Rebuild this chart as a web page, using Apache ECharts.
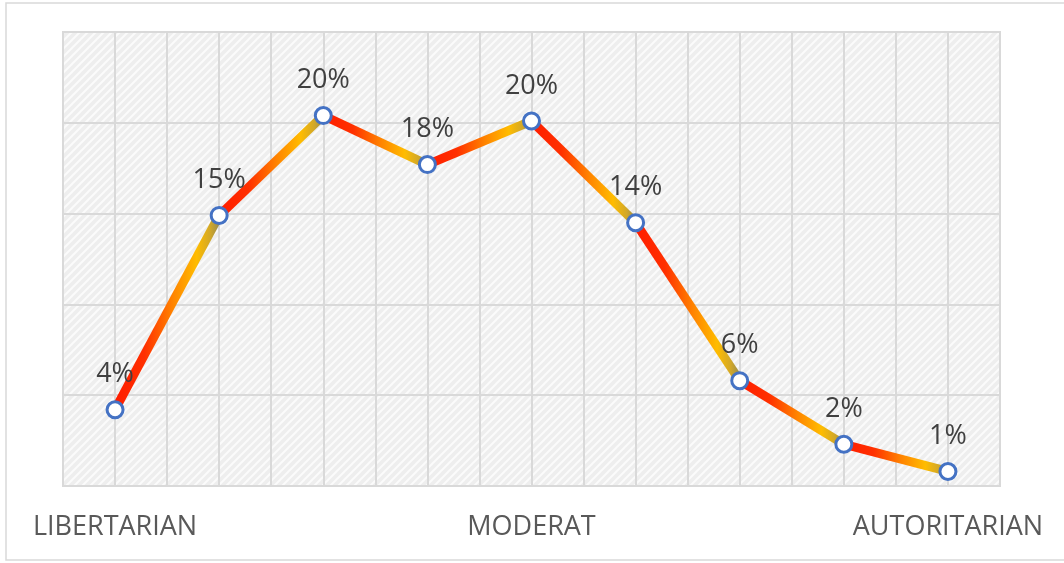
<!DOCTYPE html>
<html>
<head>
<meta charset="utf-8">
<script src="https://cdn.jsdelivr.net/npm/echarts@6/dist/echarts.min.js"></script>
<style>
html,body{margin:0;padding:0;background:#fff;}
#chart{width:1064px;height:563px;}
</style>
</head>
<body>
<div id="chart"></div>
<script>
// Data
const categories = ['c1','c2','c3','c4','c5','c6','c7','c8','c9'];
const tickLabels = ['LIBERTARIAN','','','','MODERAT','','','','AUTORITARIAN'];
const values = [4.2, 14.9, 20.4, 17.7, 20.1, 14.5, 5.8, 2.3, 0.8];
const dataLabels = ['4%','15%','20%','18%','20%','14%','6%','2%','1%'];

// texture pattern for plot background
const pc = document.createElement('canvas');
pc.width = 8; pc.height = 8;
const pctx = pc.getContext('2d');
pctx.fillStyle = '#eeeeee';
pctx.fillRect(0,0,8,8);
pctx.strokeStyle = '#fbfbfb';
pctx.lineWidth = 2;
pctx.beginPath();
pctx.moveTo(0,8); pctx.lineTo(8,0);
pctx.moveTo(-4,4); pctx.lineTo(4,-4);
pctx.moveTo(4,12); pctx.lineTo(12,4);
pctx.stroke();

const chart = echarts.init(document.getElementById('chart'), null, {renderer:'canvas'});

function segGradient(){
  return new echarts.graphic.LinearGradient(0,0,1,0,[
    {offset:0, color:'#FF1A00'},
    {offset:0.3, color:'#FF3000'},
    {offset:0.55, color:'#FF8400'},
    {offset:0.76, color:'#FFBC00'},
    {offset:0.88, color:'#D2A828'},
    {offset:1, color:'#80805E'}
  ]);
}

const series = [];
for (let i = 0; i < values.length - 1; i++) {
  series.push({
    type:'line',
    xAxisIndex:0, yAxisIndex:0,
    data: values.map((v,j)=> (j===i||j===i+1) ? v : null),
    symbol:'none',
    silent:true,
    lineStyle:{width:9, color:segGradient(), cap:'butt'},
    z:3
  });
}
series.push({
  type:'line',
  xAxisIndex:0, yAxisIndex:0,
  data: values,
  symbol:'circle',
  symbolSize:16,
  lineStyle:{opacity:0, width:0},
  itemStyle:{color:'#ffffff', borderColor:'#4472C4', borderWidth:3},
  label:{
    show:true, position:'top', distance:12,
    fontFamily:'Open Sans', fontSize:27, color:'#404040',
    formatter:(p)=>dataLabels[p.dataIndex]
  },
  z:5
});

chart.setOption({
  animation:false,
  grid:{left:63, right:64, top:32, bottom:77, show:true, backgroundColor:{image:pc, repeat:'repeat'}, borderColor:'#d9d9d9', borderWidth:2},
  graphic:[{type:'rect', shape:{x:6, y:3, width:1070, height:557}, style:{fill:'none', stroke:'#d9d9d9', lineWidth:1.5}, silent:true, z:-1}],
  xAxis:[{
    type:'category', data:categories, boundaryGap:true,
    axisLine:{show:false}, axisTick:{show:false}, splitLine:{show:false},
    axisLabel:{interval:0, margin:28, fontFamily:'Open Sans', fontSize:27, color:'#595959',
      formatter:(v,i)=>tickLabels[i]}
  },{
    type:'value', min:0, max:18, interval:1, show:true,
    axisLine:{show:false}, axisTick:{show:false}, axisLabel:{show:false},
    splitLine:{show:true, lineStyle:{color:'#d9d9d9', width:2}}
  }],
  yAxis:{
    type:'value', min:0, max:25, interval:5,
    axisLine:{show:false}, axisTick:{show:false}, axisLabel:{show:false},
    splitLine:{show:true, lineStyle:{color:'#d9d9d9', width:2}}
  },
  series: series
});
</script>
</body>
</html>
